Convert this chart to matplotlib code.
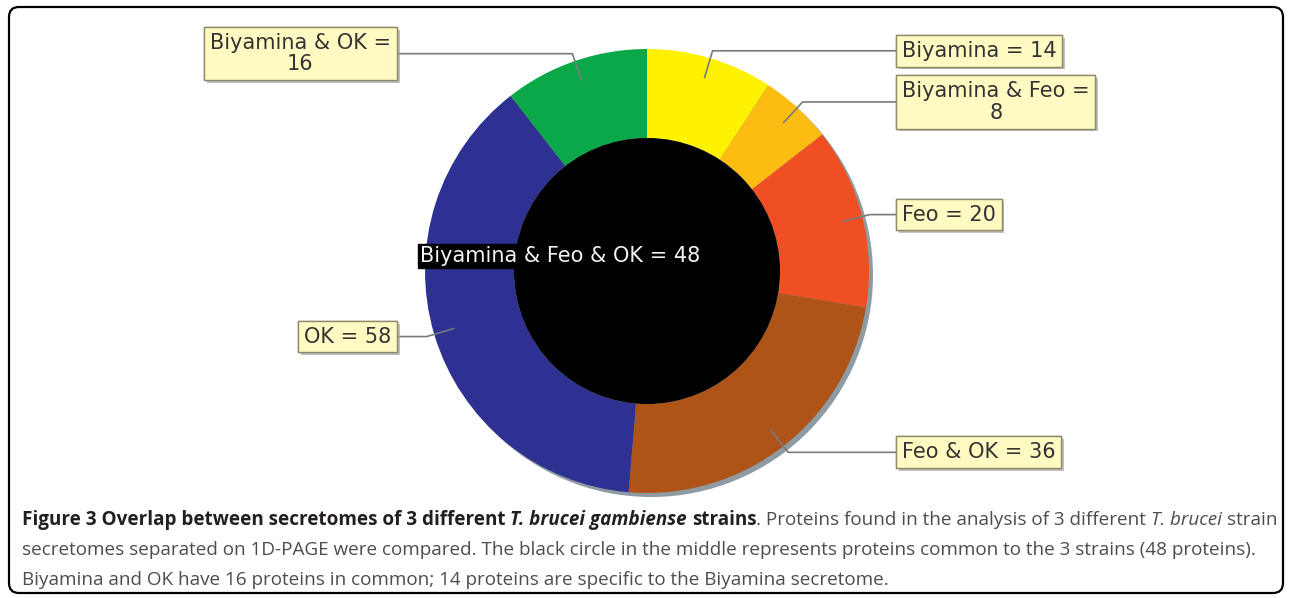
import numpy as np
import matplotlib.pyplot as plt
from matplotlib.patches import Circle, FancyBboxPatch
import matplotlib.patheffects as pe

# ring segments, clockwise from 12 o'clock
groups = ['Biyamina', 'Biyamina & Feo', 'Feo', 'Feo & OK', 'OK', 'Biyamina & OK']
counts = [14, 8, 20, 36, 58, 16]
colors = ['#FFF200', '#FCBC12', '#F04E23', '#AE5419', '#2E3192', '#0BA84A']

# proteins shared by all three strains (the black core)
core_name = 'Biyamina & Feo & OK'
core_count = 48

W, H = 1290, 598
cx, cy = 647, H - 271      # pie centre in pixels (y up)
R, r_in = 222, 133         # outer radius / black core radius

fig = plt.figure(figsize=(12.9, 5.98), dpi=100)
ax = fig.add_axes([0, 0, 1, 1])

# grey drop shadow behind the pie
ax.add_patch(Circle((cx + 4, cy - 4), R, color='#8f9ba2', zorder=0, lw=0))
wedges, _ = ax.pie(counts, colors=colors, startangle=90, counterclock=False,
                   radius=R, center=(cx, cy), frame=True,
                   wedgeprops=dict(width=R - r_in, linewidth=0))
ax.add_patch(Circle((cx, cy), r_in, color='black', zorder=3, lw=0))

ax.text(560, H - 256, f'{core_name} = {core_count}', ha='center', va='center',
        color='#f4f4f4', fontsize=15, zorder=6,
        bbox=dict(boxstyle='square,pad=0.1', fc='black', ec='black'))

# labels with elbow connectors, like the JFreeChart original
box_style = dict(boxstyle='square,pad=0.28', fc='#FFFAC2', ec='#8C8A6A', lw=1)
for w, name, n in zip(wedges, groups, counts):
    mid = np.deg2rad((w.theta1 + w.theta2) / 2)
    ax_, ay_ = cx + 0.91 * R * np.cos(mid), cy + 0.91 * R * np.sin(mid)
    ex, ey = cx + 1.035 * R * np.cos(mid), cy + 1.035 * R * np.sin(mid)
    label = f'{name} = {n}'
    if len(label) > 15:
        label = f'{name} =\n{n}'
    if np.cos(mid) > 0:
        bx, ha = 896, 'left'
        tx = bx + 6
    else:
        bx, ha = 397, 'right'
        tx = bx - 6
    ax.plot([ax_, ex, bx], [ay_, ey, ey], color='#7a7a7a', lw=1.2, zorder=4)
    t = ax.text(tx, ey, label, ha=ha, va='center', multialignment='center',
                fontsize=15, color='#333333', zorder=5, bbox=box_style,
                linespacing=1.1)
    t.get_bbox_patch().set_path_effects([
        pe.withSimplePatchShadow(offset=(2, -2), shadow_rgbFace='#999999', alpha=0.6),
        pe.Normal()])

ax.set_xlim(0, W)
ax.set_ylim(0, H)
ax.axis('off')

# rounded frame round the whole figure
ax.add_patch(FancyBboxPatch((9, 5), 1274, 586, boxstyle='round,pad=0,rounding_size=10',
                            fc='none', ec='black', lw=1.6, clip_on=False, zorder=7))

# caption, drawn run by run to mix bold / italic
renderer = fig.canvas.get_renderer()
cap_font = 'Open Sans'
cap_size = 13.6
dark, grey = '#231F20', '#4D4D4F'

def text_width(s, **kw):
    t = ax.text(0, 0, s, fontsize=cap_size, family=cap_font, **kw)
    w = t.get_window_extent(renderer).width
    t.remove()
    return w

space_w = text_width('a a') - text_width('aa')

def caption_line(y, runs):
    x = 22
    for s, weight, style, col, gap in runs:
        t = ax.text(x, y, s, fontsize=cap_size, family=cap_font, fontweight=weight,
                    fontstyle=style, color=col, va='center', ha='left')
        x += t.get_window_extent(renderer).width + (space_w if gap else 0)

caption_line(H - 520, [
    ('Figure 3 Overlap between secretomes of 3 different', 'bold', 'normal', dark, True),
    ('T. brucei gambiense', 'bold', 'italic', dark, True),
    ('strains', 'bold', 'normal', dark, False),
    ('. Proteins found in the analysis of 3 different', 'normal', 'normal', grey, True),
    ('T. brucei', 'normal', 'italic', grey, True),
    ('strain', 'normal', 'normal', grey, False),
])
caption_line(H - 550, [
    ('secretomes separated on 1D-PAGE were compared. The black circle in the middle '
     'represents proteins common to the 3 strains (48 proteins).', 'normal', 'normal', grey, False),
])
caption_line(H - 580, [
    ('Biyamina and OK have 16 proteins in common; 14 proteins are specific to the '
     'Biyamina secretome.', 'normal', 'normal', grey, False),
])

fig.savefig('out.png', dpi=100)
